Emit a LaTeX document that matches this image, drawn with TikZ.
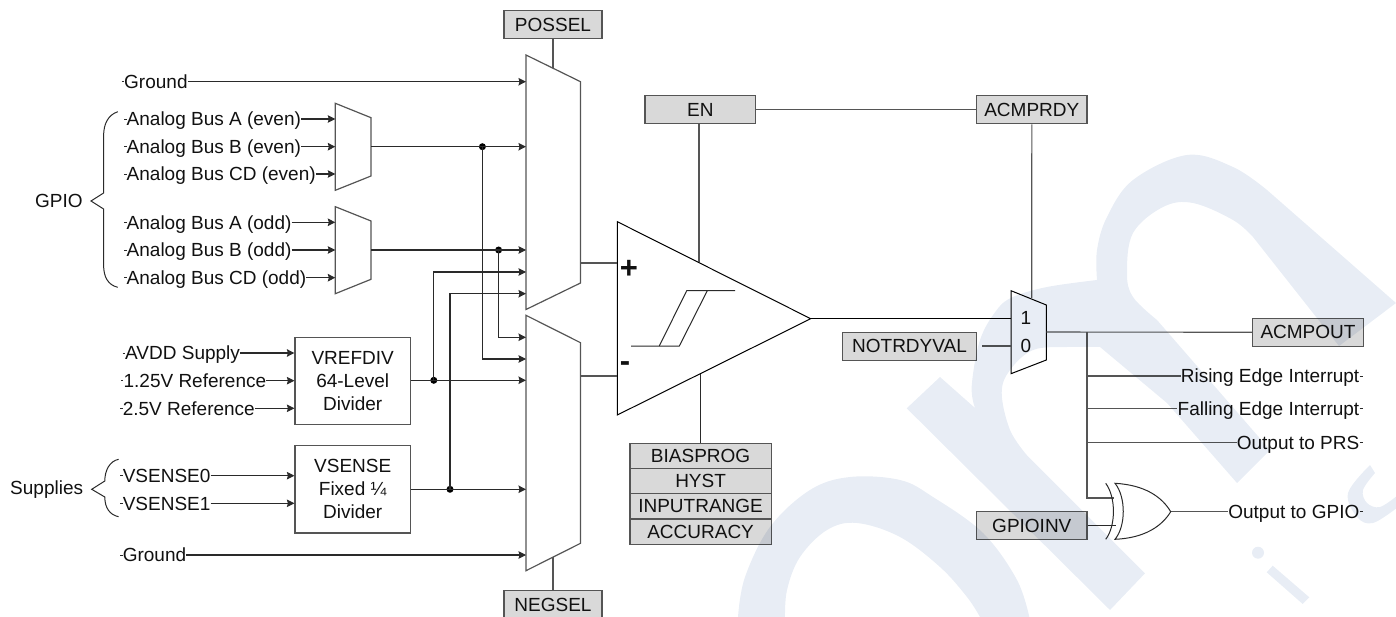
\documentclass[tikz,border=0pt]{standalone}
\usepackage{fontspec}
\setmainfont{Liberation Sans}
\usetikzlibrary{arrows.meta,calc}
\definecolor{ink}{HTML}{111111}
\definecolor{wire}{HTML}{2A2A2A}
\definecolor{edgegray}{HTML}{555555}
\definecolor{regfill}{HTML}{D9D9D9}
\definecolor{wmark}{HTML}{E8EDF5}
\tikzset{
  every node/.style={font=\fontsize{19}{23}\selectfont,text=ink},
  reg/.style={draw=edgegray,line width=1.2pt,fill=regfill,inner sep=0pt,minimum height=28pt,anchor=center},
  plainbox/.style={draw=edgegray,line width=1.2pt,fill=white,inner sep=0pt,align=center,minimum width=115.4pt},
  lab/.style={inner sep=0pt,text height=13.6pt,text depth=0pt},
  wireline/.style={draw=wire,line width=1.1pt},
  arrowline/.style={wireline,-{Stealth[length=7.5pt,width=7.5pt,inset=1pt]}},
  muxedge/.style={draw=edgegray,line width=1.2pt,fill=white,line join=miter},
  junction/.style={circle,fill=black,inner sep=0pt,minimum size=7pt},
  brace/.style={draw=wire,line width=1pt}
}
\begin{document}
\begin{tikzpicture}[x=1pt,y=-1pt]
\useasboundingbox (0,0) rectangle (1396,617);
% ---------- multiplexers
\draw[muxedge] (526,55) -- (580.5,81.7) -- (580.5,283) -- (526,309.5) -- cycle;
\draw[muxedge] (526,315.3) -- (580.5,342.7) -- (580.5,543.3) -- (526,570.7) -- cycle;
\draw[muxedge] (335.3,103.3) -- (371,117.7) -- (371,176) -- (335.3,190.3) -- cycle;
\draw[muxedge] (335.3,206.7) -- (371,221) -- (371,279.3) -- (335.3,293.7) -- cycle;
\draw[muxedge,draw=black,line width=1pt] (1011,290.7) -- (1046.3,305) -- (1046.3,360) -- (1011,373.7) -- cycle;
\draw[draw=black,line width=1pt,fill=white] (617.3,221.7) -- (810.7,318.7) -- (617.3,415) -- cycle;
% ---------- named ports
\coordinate (mPtop) at (553,68.4);
\coordinate (mNbot) at (553,557);
\foreach \n/\y in {1/81.7,2/146.7,3/250,4/272,5/293.7} \coordinate (Pin\n) at (526,\y);
\foreach \n/\y in {1/337.3,2/359,3/380.3,4/489.3,5/555} \coordinate (Nin\n) at (526,\y);
\coordinate (Pout) at (580.5,263);
\coordinate (Nout) at (580.5,376);
\coordinate (cmpP) at (617.3,263);
\coordinate (cmpN) at (617.3,376);
\coordinate (cmpOut) at (810.7,318.7);
\coordinate (cmpTop) at (699,262);
\coordinate (cmpBot) at (700.3,374);
\coordinate (smIn1) at (1011,318.7);
\coordinate (smIn0) at (1011,346);
\coordinate (smTop) at (1031.7,298);
\coordinate (smOut) at (1046.3,332);
\coordinate (notStart) at (982.3,346);
\foreach \n/\y in {1/119,2/146.7,3/174} \coordinate (Ain\n) at (335.3,\y);
\foreach \n/\y in {1/222.3,2/250,3/277.7} \coordinate (Bin\n) at (335.3,\y);
\coordinate (Aout) at (371,146.7);
\coordinate (Bout) at (371,250);
% ---------- register boxes
\node[reg,minimum width=98pt] (possel) at (553,24.7) {POSSEL};
\node[reg,minimum width=98pt] (negsel) at (553,604.7) {NEGSEL};
\node[reg,minimum width=110.7pt] (en) at (700.3,109.7) {EN};
\node[reg,minimum width=110.3pt] (acmprdy) at (1031.8,109.7) {ACMPRDY};
\node[reg,minimum width=134.4pt] (notrdy) at (909.5,346.1) {NOTRDYVAL};
\node[reg,minimum width=110.6pt] (acmpout) at (1308,332.3) {ACMPOUT};
\node[reg,minimum width=110.3pt] (gpioinv) at (1031.8,525.5) {GPIOINV};
\node[reg,minimum width=141.3pt,minimum height=25.3pt] (bias) at (700.6,455.8) {BIASPROG};
\node[reg,minimum width=141.3pt,minimum height=25.3pt] (hyst) at (700.6,481.1) {HYST};
\node[reg,minimum width=141.3pt,minimum height=25.3pt] (inrange) at (700.6,506.4) {INPUTRANGE};
\node[reg,minimum width=141.3pt,minimum height=25.3pt] (accuracy) at (700.6,531.7) {ACCURACY};
% ---------- divider boxes
\node[plainbox,minimum height=87pt] (vref) at (352.7,380.8) {VREFDIV\\64-Level\\Divider};
\node[plainbox,minimum height=87.3pt] (vsense) at (352.7,489.3) {VSENSE\\Fixed ¼\\Divider};
% ---------- left labels
\node[lab,anchor=west] (gnd1) at (124,81.7) {Ground};
\node[lab,anchor=west] (ae) at (126.5,119) {Analog Bus A (even)};
\node[lab,anchor=west] (be) at (126.5,146.7) {Analog Bus B (even)};
\node[lab,anchor=west] (ce) at (126.5,174) {Analog Bus CD (even)};
\node[lab,anchor=west] (ao) at (126.5,222.3) {Analog Bus A (odd)};
\node[lab,anchor=west] (bo) at (126.5,250) {Analog Bus B (odd)};
\node[lab,anchor=west] (co) at (126.5,277.7) {Analog Bus CD (odd)};
\node[lab,anchor=west] (avdd) at (125,353) {AVDD Supply};
\node[lab,anchor=west] (r125) at (123.4,380.7) {1.25V Reference};
\node[lab,anchor=west] (r25) at (122.6,408.3) {2.5V Reference};
\node[lab,anchor=west] (vs0) at (122.6,475.7) {VSENSE0};
\node[lab,anchor=west] (vs1) at (122.6,503.3) {VSENSE1};
\node[lab,anchor=west] (gnd2) at (122.6,555) {Ground};
\node[lab,anchor=west] (gpiolab) at (35,200.7) {GPIO};
\node[lab,anchor=west] (supplab) at (10,487.7) {Supplies};
% ---------- left stubs
\foreach \n in {gnd1,ae,be,ce,ao,bo,co,avdd,r125,r25,vs0,vs1,gnd2}
  \draw[draw=wire,line width=.8pt] ($(\n.west)+(-2.5,0)$) -- (\n.west);
% ---------- braces
\draw[brace] (117.8,111.7) .. controls (108,115) and (103.6,124) .. (103.6,136) -- (103.6,193) -- (91,201) -- (103.6,209) -- (103.6,265) .. controls (103.6,277) and (108,285) .. (117.8,287.3);
\draw[brace] (118.6,459.3) .. controls (110,461) and (104.8,470) .. (104.8,481) -- (91.7,489.3) -- (104.8,497) .. controls (104.8,508) and (110,515) .. (118.6,516.7);
% ---------- input arrows
\draw[arrowline] (gnd1.east) -- (Pin1);
\draw[arrowline] (ae.east) -- (Ain1);
\draw[arrowline] (be.east) -- (Ain2);
\draw[arrowline] (ce.east) -- (Ain3);
\draw[arrowline] (ao.east) -- (Bin1);
\draw[arrowline] (bo.east) -- (Bin2);
\draw[arrowline] (co.east) -- (Bin3);
\draw[arrowline] (avdd.east) -- (vref.west |- avdd.east);
\draw[arrowline] (r125.east) -- (vref.west |- r125.east);
\draw[arrowline] (r25.east) -- (vref.west |- r25.east);
\draw[arrowline] (vs0.east) -- (vsense.west |- vs0.east);
\draw[arrowline] (vs1.east) -- (vsense.west |- vs1.east);
\draw[arrowline] (gnd2.east) -- (Nin5);
% ---------- bus routing
\node[junction] (j1) at (482.4,146.7) {};
\node[junction] (j2) at (498.6,250) {};
\node[junction] (j3) at (433.8,380.3) {};
\node[junction] (j4) at (450,489.3) {};
\draw[arrowline] (Aout) -- (Pin2);
\draw[arrowline] (Bout) -- (Pin3);
\draw[arrowline] (vref.east |- Nin3) -- (Nin3);
\draw[arrowline] (vsense.east |- Nin4) -- (Nin4);
\draw[arrowline] (j1.center) |- (Nin2);
\draw[arrowline] (j2.center) |- (Nin1);
\draw[arrowline] (j3.center) |- (Pin4);
\draw[arrowline] (j4.center) |- (Pin5);
% ---------- comparator and controls
\draw[wireline,draw=edgegray] (possel.south) -- (mPtop);
\draw[wireline,draw=edgegray] (negsel.north) -- (mNbot);
\draw[wireline,draw=edgegray] (Pout) -- (cmpP);
\draw[wireline,draw=edgegray] (Nout) -- (cmpN);
\draw[wireline,draw=edgegray] (en.east) -- (acmprdy.west);
\draw[wireline,draw=edgegray] (en.south -| cmpTop) -- (cmpTop);
\draw[wireline] (cmpBot) -- (cmpBot |- bias.north);
\draw[wireline,draw=edgegray] (acmprdy.south) -- (smTop);
\draw[wireline,draw=black] (cmpOut) -- (smIn1);
\draw[wireline,draw=edgegray] (notStart) -- (smIn0);
\node[inner sep=0pt,font=\fontsize{31}{31}\selectfont\bfseries] (plus) at (629,269) {+};
\node[inner sep=0pt,font=\fontsize{31}{31}\selectfont\bfseries] (minus) at (625,367) {-};
\draw[draw=wire,line width=1pt] (631,346) -- (679.3,346) -- (707.3,290.7) -- (735,290.7);
\draw[draw=wire,line width=1pt] (659.3,346) -- (686.7,290.7) -- (707.3,290.7);
\node[lab] (one) at (1026,318) {1};
\node[lab] (zero) at (1026,345.7) {0};
% ---------- output side
\node[lab,anchor=east] (rise) at (1359.5,376) {Rising Edge Interrupt};
\node[lab,anchor=east] (fall) at (1359.5,408.3) {Falling Edge Interrupt};
\node[lab,anchor=east] (prs) at (1359.5,442.7) {Output to PRS};
\node[lab,anchor=east] (gpo) at (1359.5,511.7) {Output to GPIO};
\foreach \n in {rise,fall,prs,gpo}
  \draw[draw=wire,line width=.8pt] (\n.east) -- ($(\n.east)+(3.5,0)$);
\coordinate (tap) at (1087,332);
\coordinate (xorA) at (1113.5,498);
\coordinate (xorB) at (1115.5,525.7);
\coordinate (xorOut) at (1170.7,511.7);
\draw[wireline,draw=edgegray] (smOut) -- (acmpout.west);
\draw[draw=edgegray,line width=1.4pt] (tap) |- (xorA);
\draw[wireline,draw=edgegray] (tap |- rise) -- (rise.west);
\draw[wireline,draw=edgegray] (tap |- fall) -- (fall.west);
\draw[wireline,draw=edgegray] (tap |- prs) -- (prs.west);
\draw[wireline] (gpioinv.east |- xorB) -- (xorB);
\draw[wireline,draw=edgegray] (xorOut) -- (gpo.west);
% XOR gate
\draw[draw=wire,line width=1pt,fill=white] (1115,483.3) .. controls (1145,485) and (1162,497) .. (xorOut) .. controls (1162,526) and (1145,538) .. (1115,539.3) .. controls (1126,526) and (1126,497) .. cycle;
\draw[draw=wire,line width=1pt] (1105.7,483.3) .. controls (1116,497) and (1116,526) .. (1105.7,539.3);
% ---------- watermark
\begin{scope}[blend mode=multiply]
\clip (0,0) rectangle (1396,617);
\fill[wmark] (906.7,408.3) -- (940,377) -- (975,408)
  -- plot[smooth,tension=.6] coordinates {(975,408) (971.7,386) (980,340) (996.7,310) (1013,297) (1047,287) (1097,280)}
  -- plot[smooth,tension=.6] coordinates {(1097,280) (1097,250) (1107,217) (1133,180) (1187,155) (1233,167) (1267,190)}
  -- (1396,303) -- (1339,346) -- (1253,237)
  -- plot[smooth,tension=.6] coordinates {(1253,237) (1233,220) (1193,203) (1163,207) (1133,233) (1127,273) (1133,297) (1157,320)}
  -- (1270,450) -- (1237,483) -- (1167,403) -- (1100,347)
  -- plot[smooth,tension=.6] coordinates {(1100,347) (1067,347) (1033,350) (1010,370) (1001.7,393) (1010,430) (1026.7,455)}
  -- (1145,573.3) -- (1110,610) -- cycle;
\fill[wmark] plot[smooth,tension=.6] coordinates {(738,617) (745,577) (770,527) (810,490) (850,477) (900,480) (933,497) (983,533) (1017,580) (1030,620)}
  -- (980,620) -- plot[smooth,tension=.6] coordinates {(980,617) (967,597) (940,567) (900,537) (857,523) (827,530) (800,557) (787,590) (785,620)} -- cycle;
\fill[wmark] plot[smooth,tension=.6] coordinates {(1370,465) (1348,493) (1357,517) (1373,523) (1398,507)}
  -- (1398,495) -- plot[smooth,tension=.6] coordinates {(1398,495) (1380,507) (1367,503) (1363,490) (1375,473)} -- cycle;
\fill[wmark] (1258,552.7) circle (6);
\fill[wmark] (1272.7,565.7) -- (1266.7,572.3) -- (1302.7,604) -- (1309.3,597.3) -- cycle;
\end{scope}
\end{tikzpicture}
\end{document}
